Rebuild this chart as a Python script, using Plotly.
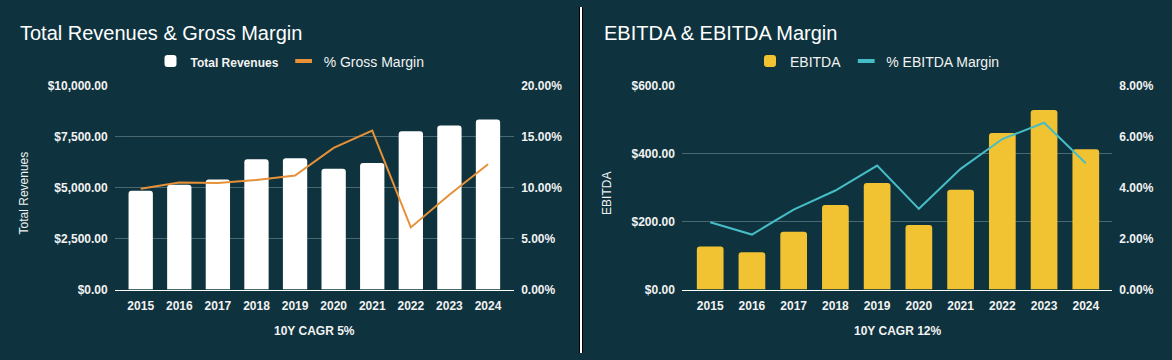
import plotly.graph_objects as go

# ---- data ----
years = ["2015", "2016", "2017", "2018", "2019", "2020", "2021", "2022", "2023", "2024"]
total_revenues = [4855, 5140, 5405, 6400, 6450, 5925, 6210, 7765, 8050, 8350]
gross_margin = [0.099, 0.105, 0.1047, 0.1075, 0.112, 0.139, 0.156, 0.061, 0.093, 0.123]
ebitda = [127, 110, 170, 249, 314, 190, 294, 461, 529, 413]
ebitda_margin = [0.0264, 0.0216, 0.0314, 0.0389, 0.0487, 0.0317, 0.0474, 0.0591, 0.0655, 0.0496]

rev_ticks = [0, 2500, 5000, 7500, 10000]
gm_ticks = [0, 0.05, 0.10, 0.15, 0.20]
ebitda_ticks = [0, 200, 400, 600]
em_ticks = [0, 0.02, 0.04, 0.06, 0.08]

W, H = 1172, 360
BG = "#0e333e"
GRID = "#4a6870"
TXT = "#f2f2f2"
ORANGE = "#e69138"
CYAN = "#46bdc6"
FONT = "Liberation Sans, Arial, sans-serif"

fig = go.Figure()

fig.add_trace(go.Bar(x=years, y=total_revenues,
                     name="<span style='font-size:12px'><b>Total Revenues</b></span>",
                     marker=dict(color="#ffffff", cornerradius=3, line_width=0),
                     width=0.63, xaxis="x", yaxis="y", legend="legend"))
fig.add_trace(go.Scatter(x=years, y=gross_margin, name="% Gross Margin", mode="lines",
                         line=dict(color=ORANGE, width=2), showlegend=False,
                         xaxis="x", yaxis="y2", legend="legend"))
# legend key (short dash) for the margin line
fig.add_trace(go.Scatter(x=[None], y=[None], name="% Gross Margin", mode="markers",
                         marker=dict(symbol="line-ew", size=12,
                                     line=dict(color=ORANGE, width=4)),
                         xaxis="x", yaxis="y2", legend="legend"))
fig.add_trace(go.Bar(x=years, y=ebitda, name="EBITDA",
                     marker=dict(color="#f1c232", cornerradius=3, line_width=0),
                     width=0.64, xaxis="x2", yaxis="y3", legend="legend2"))
fig.add_trace(go.Scatter(x=years, y=ebitda_margin, name="% EBITDA Margin", mode="lines",
                         line=dict(color=CYAN, width=2), showlegend=False,
                         xaxis="x2", yaxis="y4", legend="legend2"))
fig.add_trace(go.Scatter(x=[None], y=[None], name="% EBITDA Margin", mode="markers",
                         marker=dict(symbol="line-ew", size=12,
                                     line=dict(color=CYAN, width=4)),
                         xaxis="x2", yaxis="y4", legend="legend2"))

ydom = [(H - 294) / H, (H - 82) / H]
xdom1 = [114.7 / W, 514.2 / W]
xdom2 = [681.9 / W, 1112.3 / W]

tickfont = dict(family=FONT, size=12, color=TXT, weight="bold")

xcommon = dict(type="category", showgrid=False, showline=True, linecolor="#ffffff",
               linewidth=1, ticks="", tickfont=tickfont, ticklabelstandoff=5,
               fixedrange=True)
fig.update_layout(
    width=W, height=H,
    margin=dict(l=0, r=0, t=0, b=0),
    paper_bgcolor=BG, plot_bgcolor=BG,
    font=dict(family=FONT, color=TXT),
    showlegend=True,
    barmode="overlay",
    xaxis=dict(domain=xdom1, anchor="y", range=[-0.674, 9.679], **xcommon),
    yaxis=dict(domain=ydom, anchor="x", range=[0, 10000], tickvals=rev_ticks,
               tickformat="$,.2f", showgrid=True, gridcolor=GRID, gridwidth=1,
               zeroline=False, tickfont=tickfont, ticklabelstandoff=6),
    yaxis2=dict(overlaying="y", side="right", anchor="x", range=[0, 0.2],
                tickvals=gm_ticks, tickformat=".2%", showgrid=False, zeroline=False,
                tickfont=tickfont, ticklabelstandoff=6),
    xaxis2=dict(domain=xdom2, anchor="y3", range=[-0.678, 9.635], **xcommon),
    yaxis3=dict(domain=ydom, anchor="x2", range=[0, 600], tickvals=ebitda_ticks,
                tickformat="$,.2f", showgrid=True, gridcolor=GRID, gridwidth=1,
                zeroline=False, tickfont=tickfont, ticklabelstandoff=6),
    yaxis4=dict(overlaying="y3", side="right", anchor="x2", range=[0, 0.08],
                tickvals=em_ticks, tickformat=".2%", showgrid=False, zeroline=False,
                tickfont=tickfont, ticklabelstandoff=6),
    legend=dict(orientation="h", x=290 / W, xanchor="center", y=(H - 56.7) / H,
                yanchor="middle", font=dict(family=FONT, size=14, color=TXT),
                bgcolor="rgba(0,0,0,0)", traceorder="normal"),
    legend2=dict(orientation="h", x=877.5 / W, xanchor="center", y=(H - 56.7) / H,
                 yanchor="middle", font=dict(family=FONT, size=14, color=TXT),
                 bgcolor="rgba(0,0,0,0)", traceorder="normal"),
)

annotations = [
    dict(text="Total Revenues & Gross Margin", x=18 / W, y=(H - 27) / H, xref="paper",
         yref="paper", xanchor="left", yanchor="middle", showarrow=False,
         font=dict(family=FONT, size=20, color="#ffffff")),
    dict(text="EBITDA & EBITDA Margin", x=602 / W, y=(H - 27) / H, xref="paper",
         yref="paper", xanchor="left", yanchor="middle", showarrow=False,
         font=dict(family=FONT, size=20, color="#ffffff")),
    dict(text="10Y CAGR 5%", x=(xdom1[0] + xdom1[1]) / 2, y=(H - 336.7) / H, xref="paper",
         yref="paper", xanchor="center", yanchor="middle", showarrow=False,
         font=dict(family=FONT, size=12, color=TXT, weight="bold")),
    dict(text="10Y CAGR 12%", x=(xdom2[0] + xdom2[1]) / 2, y=(H - 336.7) / H, xref="paper",
         yref="paper", xanchor="center", yanchor="middle", showarrow=False,
         font=dict(family=FONT, size=12, color=TXT, weight="bold")),
    dict(text="Total Revenues", x=24 / W, y=(H - 194) / H, xref="paper", yref="paper",
         xanchor="center", yanchor="middle", textangle=-90, showarrow=False,
         font=dict(family=FONT, size=12, color=TXT)),
    dict(text="EBITDA", x=607.5 / W, y=(H - 194) / H, xref="paper", yref="paper",
         xanchor="center", yanchor="middle", textangle=-90, showarrow=False,
         font=dict(family=FONT, size=12, color=TXT)),
]
fig.update_layout(annotations=annotations)

shapes = [
    dict(type="rect", xref="paper", yref="paper", x0=579 / W, x1=583 / W, y0=0, y1=1,
         fillcolor="#000000", line_width=0, layer="above"),
    dict(type="rect", xref="paper", yref="paper", x0=580 / W, x1=582 / W, y0=0, y1=1,
         fillcolor="#ffffff", line_width=0, layer="above"),
]
fig.update_layout(shapes=shapes)

fig.write_html("out.html", config={"displayModeBar": False},
               post_script="document.body.style.margin='0';document.body.style.overflow='hidden';")
